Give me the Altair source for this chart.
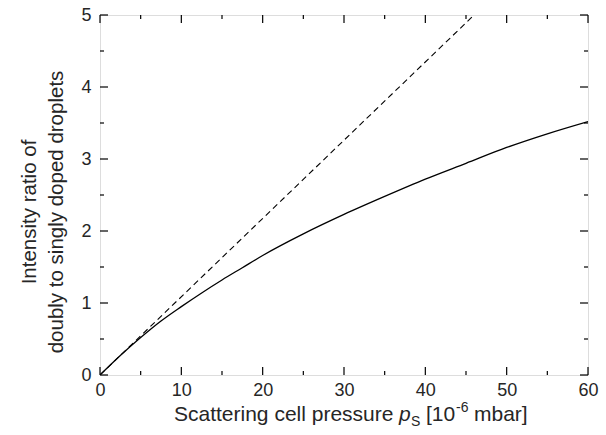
import altair as alt
import pandas as pd

# solid curve: intensity ratio vs scattering cell pressure
pressure = [0, 2.5, 5, 7.5, 10, 12.5, 15, 17.5, 20, 25, 30, 35, 40, 45, 50, 55, 60]
ratio = [0, 0.27, 0.52, 0.75, 0.95, 1.14, 1.32, 1.49, 1.66, 1.96, 2.23, 2.48, 2.72, 2.94, 3.16, 3.35, 3.52]
# dashed linear (low-pressure) approximation
lin_pressure = [0, 46]
lin_ratio = [0, 5]

x_major = [0, 10, 20, 30, 40, 50, 60]
x_minor = [5, 15, 25, 35, 45, 55]
y_major = [0, 1, 2, 3, 4, 5]
y_minor = [0.5, 1.5, 2.5, 3.5, 4.5]

W, H = 488, 360
FONT = "Liberation Sans"
TXT = "#262626"
MAJ, MIN = 8, 4

xscale = alt.Scale(domain=[0, 60], nice=False, zero=False)
yscale = alt.Scale(domain=[0, 5], nice=False, zero=False)

xaxis = alt.Axis(values=x_major, ticks=False, domain=False, grid=False, title=None,
                 labelFont=FONT, labelFontSize=18, labelColor=TXT,
                 labelPadding=6, labelFlush=False)
yaxis = alt.Axis(values=y_major, ticks=False, domain=False, grid=False, title=None,
                 labelFont=FONT, labelFontSize=18, labelColor=TXT,
                 labelPadding=9)

X = lambda f: alt.X(f, scale=xscale, axis=xaxis)
Y = lambda f: alt.Y(f, scale=yscale, axis=yaxis)

curve = alt.Chart(pd.DataFrame({"p": pressure, "r": ratio})).mark_line(
    color="black", strokeWidth=1.3, interpolate="monotone", clip=True
).encode(x=X("p:Q"), y=Y("r:Q"))

dashed = alt.Chart(pd.DataFrame({"p": lin_pressure, "r": lin_ratio})).mark_line(
    color="black", strokeWidth=1.1, strokeDash=[6, 4], clip=True
).encode(x=X("p:Q"), y=Y("r:Q"))

def xticks(vals, length):
    d = pd.DataFrame({"p": vals})
    base = alt.Chart(d).mark_rule(color="black", strokeWidth=1.2)
    bottom = base.encode(x=X("p:Q"), y=alt.value(H), y2=alt.value(H - length))
    top = base.encode(x=X("p:Q"), y=alt.value(0), y2=alt.value(length))
    return [bottom, top]

def yticks(vals, length):
    d = pd.DataFrame({"r": vals})
    base = alt.Chart(d).mark_rule(color="black", strokeWidth=1.2)
    left = base.encode(y=Y("r:Q"), x=alt.value(0), x2=alt.value(length))
    right = base.encode(y=Y("r:Q"), x=alt.value(W), x2=alt.value(W - length))
    return [left, right]

tick_layers = xticks(x_major, MAJ) + xticks(x_minor, MIN) + yticks(y_major, MAJ) + yticks(y_minor, MIN)

def label(text, x, y, size=21, style="normal", angle=0, align="left", baseline="alphabetic"):
    return alt.Chart(pd.DataFrame({"t": [text]})).mark_text(
        font=FONT, fontSize=size, fontStyle=style, color=TXT,
        align=align, baseline=baseline, angle=angle
    ).encode(text="t:N", x=alt.value(x), y=alt.value(y))

TB = 406  # x-title baseline (relative to plot top)
xtitle = [
    label("Scattering cell pressure", 74, TB),
    label("p", 299, TB, style="italic"),
    label("S", 311, TB + 5, size=14),
    label("[10", 326, TB),
    label("-6", 356, TB - 9, size=14),
    label("mbar]", 374, TB),
]
ytitle = [
    label("Intensity ratio of", -70, 197, size=20.5, angle=270, align="center", baseline="middle"),
    label("doubly to singly doped droplets", -43, 197, size=20.5, angle=270, align="center", baseline="middle"),
]

chart = alt.layer(curve, dashed, *tick_layers, *xtitle, *ytitle).properties(
    width=W, height=H,
    autosize=alt.AutoSizeParams(type="none"),
    padding={"left": 100, "top": 15, "right": 18, "bottom": 60},
).configure_view(
    stroke="black", strokeWidth=1.6
).configure(background="white")

chart.save("out.html", embed_options={"renderer": "svg", "actions": False})
